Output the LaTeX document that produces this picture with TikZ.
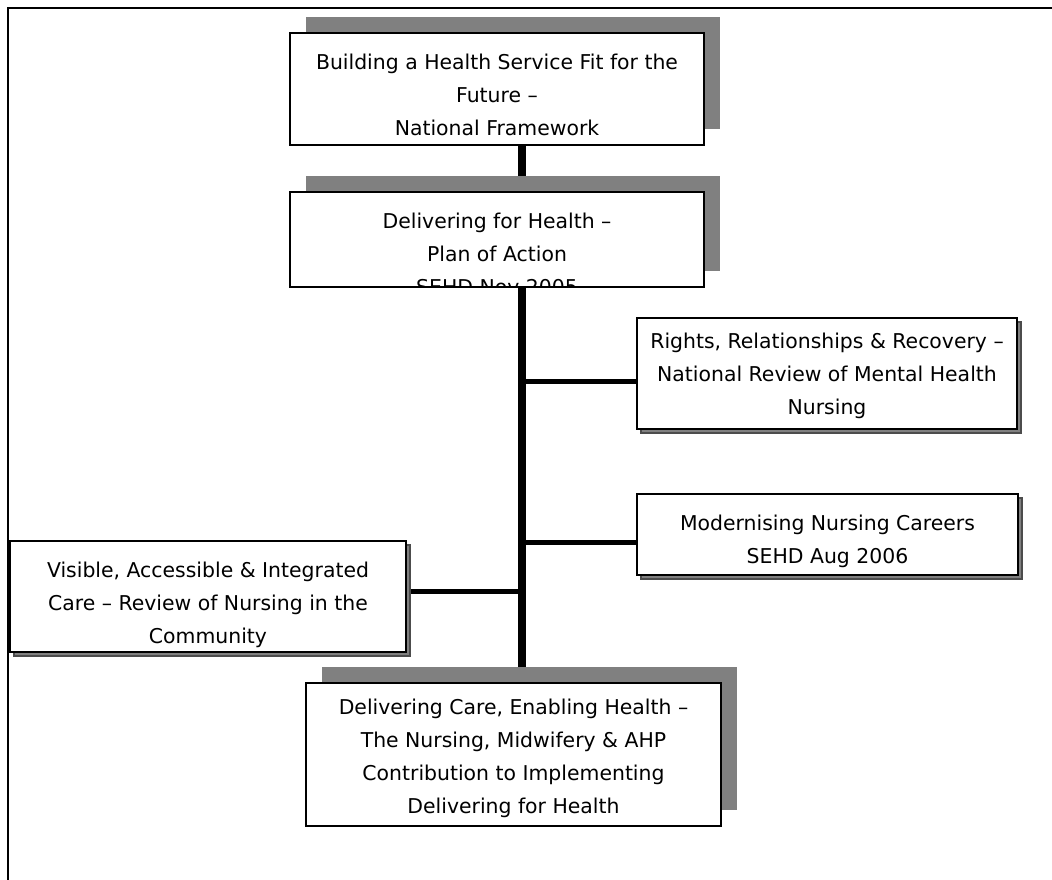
\documentclass[tikz,border=0pt]{standalone}
\usepackage{fontspec}
\setmainfont{DejaVu Sans}
\usetikzlibrary{shadows,backgrounds}

\definecolor{shadowgray}{HTML}{808080}

\tikzset{
  gap/.store in=\docgap, gap=15pt,
  doc/.style={draw=black, line width=1.5pt, fill=white,
    path picture={\node[anchor=north, align=center, inner sep=0pt,
      minimum width=0pt, minimum height=0pt,
      font=\fontsize{15.3}{24.75}\selectfont]
      at ([yshift=-\docgap]path picture bounding box.north) {#1};}},
  deep/.style={general shadow={fill=shadowgray, shadow xshift=12pt, shadow yshift=12pt}},
  flat/.style={general shadow={fill=shadowgray, draw=black!70, shadow xshift=3pt, shadow yshift=-3pt}},
  spine/.style={line width=5.5pt},
  link/.style={line width=3.75pt}
}

\begin{document}
\begin{tikzpicture}[x=0.75pt, y=-0.75pt]
        \useasboundingbox (0,0) rectangle (1052,880);
        \draw[line width=1.5pt] (8,880) -- (8,8) -- (1052,8);

        \node[deep, doc={Building a Health Service Fit for the\\Future –\\National Framework},
          minimum width=310.5pt, minimum height=84pt] (build) at (497,89) {};
        \node[deep, doc={Delivering for Health –\\Plan of Action\\SEHD Nov 2005},
          minimum width=310.5pt, minimum height=71.25pt] (delivering) at (497,239.5) {};
        \node[flat, gap=10.5pt, doc={Rights, Relationships \& Recovery –\\National Review of Mental Health\\Nursing},
          minimum width=285pt, minimum height=83.25pt] (rights) at (827,373.5) {};
        \node[flat, doc={Modernising Nursing Careers\\SEHD Aug 2006},
          minimum width=285.75pt, minimum height=60.75pt] (careers) at (827.5,534) {};
        \node[flat, doc={Visible, Accessible \& Integrated\\Care – Review of Nursing in the\\Community},
          minimum width=297pt, minimum height=83.25pt] (community) at (208,596.5) {};
        \node[deep, gap=11pt, doc={Delivering Care, Enabling Health –\\The Nursing, Midwifery \& AHP\\Contribution to Implementing\\Delivering for Health},
          minimum width=311.25pt, minimum height=107.25pt] (enabling) at (513.5,754.5) {};

        \coordinate (spine) at (522,0);
        \coordinate (j1) at (522,381);
        \coordinate (j2) at (522,542);
        \coordinate (j3) at (522,591);

        \begin{scope}[on background layer]
          \draw[spine] (build.south -| spine) -- (delivering.north -| spine);
          \draw[spine] (delivering.south -| spine) -- (enabling.north -| spine);
          \draw[link] (j1) -- (j1 -| rights.west);
          \draw[link] (j2) -- (j2 -| careers.west);
          \draw[link] (j3) -- (j3 -| community.east);
        \end{scope}
      \end{tikzpicture}
\end{document}
